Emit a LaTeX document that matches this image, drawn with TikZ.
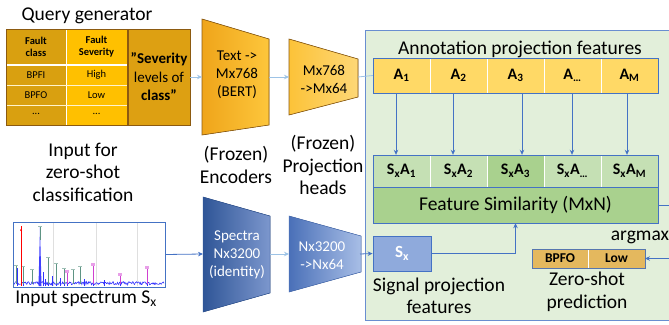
\documentclass[tikz,border=0pt]{standalone}
\usepackage{fontspec}
\setmainfont{Carlito}
\usetikzlibrary{arrows.meta}
\definecolor{goldA}{HTML}{D9A010}
\definecolor{goldB}{HTML}{FFC000}
\definecolor{goldC}{HTML}{DDA012}
\definecolor{brownB}{HTML}{8C5A10}
\definecolor{panel}{HTML}{E2EFDA}
\definecolor{bl}{HTML}{4472C4}
\definecolor{lbl}{HTML}{9DC3E6}
\definecolor{aY}{HTML}{FFD966}
\definecolor{gL}{HTML}{C5E0B4}
\definecolor{gD}{HTML}{A9D18E}
\definecolor{sxB}{HTML}{8FAADC}
\definecolor{pr}{HTML}{E4B85E}
\definecolor{encA}{HTML}{EFA51A}
\definecolor{encB}{HTML}{FDC63C}
\definecolor{spA}{HTML}{2F5597}
\definecolor{spB}{HTML}{7C97CD}
\definecolor{spC}{HTML}{4A70B8}
\definecolor{spD}{HTML}{A8BEE6}
\definecolor{mk}{HTML}{5E9484}
\definecolor{mg}{HTML}{D040D0}
\begin{document}
\begin{tikzpicture}[x=1pt,y=-1pt,
  big/.style={font=\fontsize{19.5}{22.5}\selectfont, align=center, inner sep=0},
  mid/.style={font=\fontsize{15}{18}\selectfont, align=center, inner sep=0},
  tcell/.style={font=\fontsize{10.5}{12}\selectfont, align=center, inner sep=0, minimum width=60pt},
  acell/.style={fill=aY, minimum width=57pt, minimum height=35pt, inner sep=0, font=\fontsize{16}{18}\selectfont\bfseries},
  scell/.style={fill=gL, minimum width=57pt, minimum height=32pt, inner sep=0, font=\fontsize{16}{18}\selectfont\bfseries},
  pcell/.style={fill=pr, minimum width=56.5pt, minimum height=19pt, inner sep=0, font=\fontsize{13.5}{15}\selectfont\bfseries},
  arrl/.style={draw=lbl, line width=0.8pt, -{Stealth[length=5pt,width=4.5pt]}},
  arrb/.style={draw=bl, line width=0.8pt, -{Stealth[length=5pt,width=4.5pt]}},
]
\useasboundingbox (0,0) rectangle (669,324);

% ---------------- Query generator ----------------
\node[big] (qg) at (87,16) {Query generator};
\path[fill=goldA] (6,29) rectangle (66,125);
\path[fill=goldB] (66,29) rectangle (127,125);
\draw[white, line width=0.8pt] (66,29) -- (66,125);
\draw[white, line width=2pt] (6,65) -- (127,65);
\draw[white!80!goldB, line width=0.8pt] (6,85) -- (127,85) (6,105) -- (127,105);
\draw[brownB, line width=0.8pt] (6,29) rectangle (127,125);
\node[tcell] (h1) at (36,47) {\textbf{Fault}\\\textbf{class}};
\node[tcell] (h2) at (96.5,47) {\textbf{Fault}\\\textbf{Severity}};
\node[tcell] (r1a) at (36,75) {BPFI};
\node[tcell] (r1b) at (96.5,75) {High};
\node[tcell] (r2a) at (36,95) {BPFO};
\node[tcell] (r2b) at (96.5,95) {Low};
\node[tcell] (r3a) at (36,114) {...};
\node[tcell] (r3b) at (96.5,114) {...};
\node[draw=brownB, line width=0.8pt, fill=goldC, minimum width=62pt, minimum height=96pt, inner sep=0,
      font=\fontsize{15}{18.5}\selectfont, align=center] (sev) at (159,77)
      {\textbf{”Severity}\\levels of\\\textbf{class”}};
\node[big] (inp) at (83,172) {Input for\\zero-shot\\classification};

% ---------------- Text encoder and projection head ----------------
\fill[left color=encA, right color=encB] (202,19) -- (269,39) -- (269,125) -- (202,135) -- cycle;
\draw[brownB, line width=0.6pt] (202,19) -- (269,39) -- (269,125) -- (202,135) -- cycle;
\node[mid] (enc) at (237,75) {Text ->\\Mx768\\(BERT)};
\coordinate (encL) at (202,77);
\coordinate (encR) at (269,77);
\fill[left color=encB!90!encA, right color=encB!70!white] (289,39) -- (358,59) -- (358,97) -- (289,115) -- cycle;
\draw[brownB, line width=0.6pt] (289,39) -- (358,59) -- (358,97) -- (289,115) -- cycle;
\node[mid] (proj) at (324,79) {Mx768\\->Mx64};
\coordinate (projL) at (289,77);
\coordinate (projR) at (358,77);
\node[big] (frz1) at (236,165) {(Frozen)\\Encoders};
\node[big] (frz2) at (323,165) {(Frozen)\\Projection\\heads};

% ---------------- Spectrum branch ----------------
\node[draw=bl, line width=0.8pt, fill=white, minimum width=152pt, minimum height=65pt, inner sep=0] (spec) at (89,254.5) {};
\draw[gray!25, line width=0.4pt] (53,223) -- (53,286) (96,223) -- (96,286) (137,223) -- (137,286);
\pgfmathsetseed{7}
\draw[blue!80, line width=0.6pt] plot[domain=14:164, samples=220] (\x, {284.8-3.2*rnd});
\fill[blue!75] (38.5,286) -- (40,227) -- (41.5,286) -- cycle;
\draw[blue!80, line width=0.8pt]
  (17,286) -- (17,268) (23,286) -- (23,270) (43,286) -- (43,272)
  (48,286) -- (48,258) (52,286) -- (52,276) (56,286) -- (56,275) (64,286) -- (64,271)
  (67,286) -- (67,273) (93,286) -- (93,266) (120,286) -- (120,279) (147,286) -- (147,270)
  (45,286) -- (45,279) (60,286) -- (60,278) (84,286) -- (84,279) (104,286) -- (104,280);
\draw[mk, line width=0.6pt]
  (16,284) -- (16,265) (23,284) -- (23,266) (32,284) -- (32,269) (40,240) -- (40,226)
  (48,284) -- (48,257) (56,284) -- (56,263) (64,284) -- (64,268) (73,284) -- (73,269) (80,284) -- (80,266);
\foreach \xx/\yy in {16/265,23/266,32/269,40/226,48/257,56/263,64/268,73/269,80/266}
  \draw[mk!60, line width=0.4pt] (\xx-2,\yy) -- (\xx+2,\yy);
\draw[mg, line width=0.6pt] (67,284) -- (67,271) (93,284) -- (93,264) (120,284) -- (120,274) (147,284) -- (147,267);
\foreach \xx/\yy in {67/271,93/264,120/274,147/267}
  \fill[mg!50] (\xx-2,\yy-1.5) rectangle (\xx+2,\yy+1.5);
\draw[red, line width=0.8pt] (21,286) -- (21,226);
\fill[red] (21,230) circle (1pt);
\node[big] (inspec) at (86,299) {Input spectrum S\textsubscript{x}};

\fill[left color=spA, right color=spB] (203,197) -- (270,216) -- (270,293) -- (203,312) -- cycle;
\draw[spA, line width=0.5pt] (203,197) -- (270,216) -- (270,293) -- (203,312) -- cycle;
\node[mid, text=white] (senc) at (237,255) {Spectra\\Nx3200\\(identity)};
\coordinate (sencL) at (203,254);
\coordinate (sencR) at (270,254);
\fill[left color=spC, right color=spD] (289,216) -- (361,236) -- (361,272) -- (289,292) -- cycle;
\draw[spC, line width=0.5pt] (289,216) -- (361,236) -- (361,272) -- (289,292) -- cycle;
\node[mid, text=white] (sproj) at (322,256) {Nx3200\\->Nx64};
\coordinate (sprojL) at (289,254);
\coordinate (sprojR) at (360,254);

% ---------------- Green panel ----------------
\draw[bl!80, line width=0.8pt, fill=panel] (365,30) rectangle (672,320);
\node[big] (ann) at (520,49) {Annotation projection features};

\node[acell] (a1) at (401.5,75.5) {A\textsubscript{1}};
\node[acell] (a2) at (458.5,75.5) {A\textsubscript{2}};
\node[acell] (a3) at (515.5,75.5) {A\textsubscript{3}};
\node[acell] (a4) at (572.5,75.5) {A\textsubscript{…}};
\node[acell] (a5) at (629.5,75.5) {A\textsubscript{M}};
\draw[white, line width=0.8pt] (430,58) -- (430,93) (487,58) -- (487,93) (544,58) -- (544,93) (601,58) -- (601,93);
\draw[bl, line width=0.8pt] (373,58) rectangle (658,93);

\node[scell] (s1) at (401.5,171) {S\textsubscript{x}A\textsubscript{1}};
\node[scell] (s2) at (458.5,171) {S\textsubscript{x}A\textsubscript{2}};
\node[scell, fill=gD] (s3) at (515.5,171) {S\textsubscript{x}A\textsubscript{3}};
\node[scell] (s4) at (572.5,171) {S\textsubscript{x}A\textsubscript{…}};
\node[scell] (s5) at (629.5,171) {S\textsubscript{x}A\textsubscript{M}};
\draw[white, line width=0.8pt] (430,155) -- (430,187) (487,155) -- (487,187) (544,155) -- (544,187) (601,155) -- (601,187);
\node[fill=gD, minimum width=285pt, minimum height=36pt, inner sep=0, big] (fs) at (515.5,205) {Feature Similarity (MxN)};
\draw[bl, line width=0.8pt] (373,155) rectangle (658,223);
\draw[bl, line width=0.8pt] (373,187) -- (658,187);

\draw[arrb, line width=0.7pt] ([xshift=-5.5pt]a1.south) -- ([xshift=-5.5pt]s1.north);
\draw[arrb, line width=0.7pt] ([xshift=-5.5pt]a2.south) -- ([xshift=-5.5pt]s2.north);
\draw[arrb, line width=0.7pt] ([xshift=6.5pt]a3.south) -- ([xshift=6.5pt]s3.north);
\draw[arrb, line width=0.7pt] ([xshift=-0.5pt]a4.south) -- ([xshift=-0.5pt]s4.north);
\draw[arrb, line width=0.7pt] ([xshift=-2.5pt]a5.south) -- ([xshift=-2.5pt]s5.north);

\node[draw=bl, line width=0.8pt, fill=sxB, minimum width=58pt, minimum height=35pt, inner sep=0,
      text=white, font=\fontsize{17}{19}\selectfont\bfseries] (sx) at (402,253.5) {S\textsubscript{x}};
\node[big] (spf) at (439,296) {Signal projection\\features};

\node[pcell] (pb) at (560,258.5) {BPFO};
\node[pcell] (pl) at (616.5,258.5) {Low};
\draw[white, line width=0.8pt] (588.5,249) -- (588.5,268);
\draw[bl!70!gray, line width=0.8pt] (532,249) rectangle (645,268);
\node[big] (zsp) at (587,292) {Zero-shot\\prediction};
\node[big] (am) at (640,237) {argmax};

% ---------------- Connectors ----------------
\draw[arrl] (sev.east) -- (encL);
\draw[arrl] (encR) -- (projL);
\draw[draw=lbl, line width=0.8pt] (projR) -- (a1.west);
\draw[arrb] (spec.east) -- (sencL);
\draw[arrl] (sencR) -- (sprojL);
\draw[arrb] (sprojR) -- (sx.west);
\draw[arrb] (sx.east) -| (fs.south);
\draw[arrb] (fs.east) -- ++(30,0) |- (pl.east);
\end{tikzpicture}
\end{document}
